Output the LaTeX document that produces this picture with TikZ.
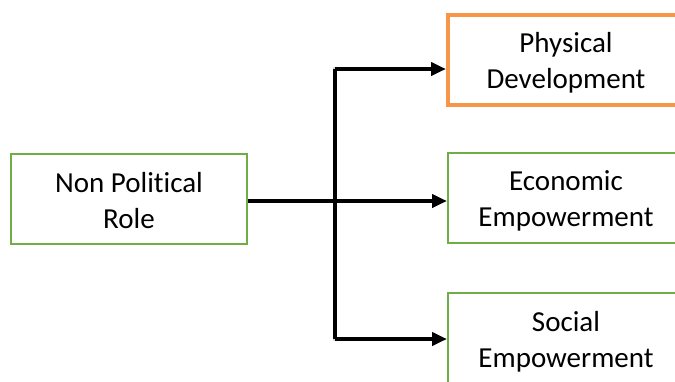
\documentclass[tikz,border=0pt]{standalone}
\usepackage{fontspec}
\setmainfont[RawFeature={-liga}]{Carlito}
\usetikzlibrary{arrows.meta}
\definecolor{boxgreen}{HTML}{70AD47}
\definecolor{boxorange}{HTML}{F79646}
\tikzset{
  box/.style={draw=boxgreen, line width=2pt, fill=white, minimum width=236pt, minimum height=90pt, inner sep=0pt},
  hibox/.style={box, draw=boxorange, line width=4pt},
  txt/.style={yshift=-2.5pt, align=center, inner sep=0pt, font=\fontsize{29}{36}\selectfont},
  link/.style={line width=4pt, black},
  arr/.style={link, -{Triangle[length=15pt,width=13pt]}},
  shadowlink/.style={line width=4pt, black!25, opacity=0.6},
}
\begin{document}
\begin{tikzpicture}[x=1pt,y=-1pt]
\useasboundingbox (0,0) rectangle (675,381);
\clip (0,0) rectangle (675,381);
\node[box, label={[txt]center:Non Political\\Role}] (npr) at (129,198.5) {};
\node[hibox, label={[txt]center:Physical\\Development}] (phys) at (566,60) {};
\node[box, label={[txt]center:Economic\\Empowerment}] (eco) at (566,198) {};
\node[box, minimum height=92pt, label={[txt]center:Social\\Empowerment}] (soc) at (566,339) {};
\coordinate (j) at (335,201);
\coordinate (pt) at ([yshift=-9pt]phys.west);
% faint shadows
\begin{scope}[shift={(1.5,1.5)}]
\draw[shadowlink] (npr.east |- j) -- ([xshift=-14pt]eco.west |- j);
\draw[shadowlink] ([xshift=-14pt]pt) -| (j |- soc.west) -- ([xshift=-14pt]soc.west);
\end{scope}
\draw[link] (j |- pt) -- (j |- soc.west);
\draw[arr] (npr.east |- j) -- (eco.west |- j);
\draw[arr] (j |- pt) -- (pt);
\draw[arr] (j |- soc.west) -- (soc.west);
\end{tikzpicture}
\end{document}
